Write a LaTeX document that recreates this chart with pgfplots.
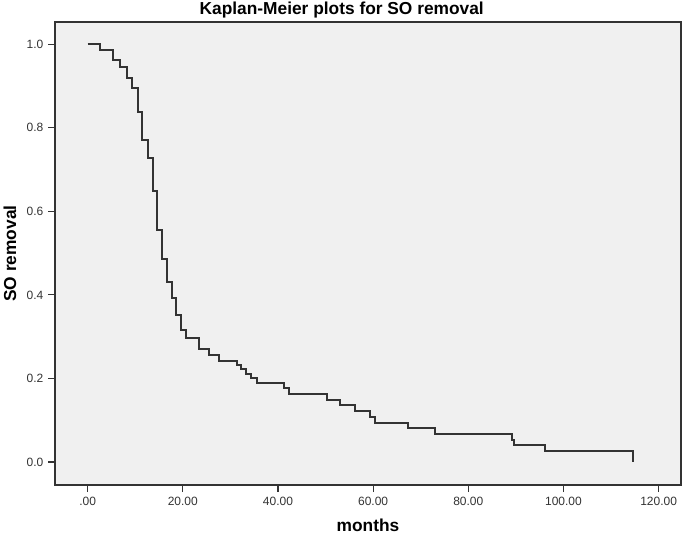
\documentclass[border=0pt]{standalone}
\usepackage{fontspec}
\setmainfont{Liberation Sans}
\usepackage{pgfplots}
\pgfplotsset{compat=1.18}
\definecolor{bgc}{HTML}{F0F0F0}
\definecolor{linec}{HTML}{333333}
\begin{document}
\begin{tikzpicture}[x=0.75pt,y=0.75pt]
\useasboundingbox (-55,-48) rectangle (630,485);
\begin{axis}[
  at={(0,0)}, anchor=south west,
  scale only axis, width=469.5pt, height=347.25pt,
  xmin=-6.85, xmax=124.7, ymin=-0.055, ymax=1.053,
  axis background/.style={fill=bgc},
  axis line style={draw=linec, line width=0.9pt},
  tick pos=left, tick align=outside,
  major tick length=5.25pt,
  major tick style={draw=linec, line width=0.9pt},
  xtick={0,20,40,60,80,100,120},
  xticklabels={.00,20.00,40.00,60.00,80.00,100.00,120.00},
  ytick={0,0.2,0.4,0.6,0.8,1.0},
  yticklabel style={/pgf/number format/.cd, fixed, fixed zerofill, precision=1},
  /pgf/number format/assume math mode=true,
  tick label style={font=\fontsize{9}{11}\selectfont, color=linec},
  xlabel={months}, ylabel={SO removal},
  title={Kaplan-Meier plots for SO removal},
  label style={font=\fontsize{13}{15}\selectfont\bfseries, color=black},
  xlabel style={at={(axis description cs:0.5,-0.086)}, anchor=center},
  ylabel style={at={(axis description cs:-0.072,0.5)}, anchor=center, rotate=0},
  title style={at={(axis description cs:0.458,1.026)}, anchor=center, yshift=-6pt, font=\fontsize{13}{15}\selectfont\bfseries},
]
\addplot[const plot, draw=linec, line width=1.5pt] coordinates {
(0,1.000)
(2.6,0.987)
(5.4,0.962)
(6.9,0.946)
(8.3,0.919)
(9.4,0.895)
(10.5,0.838)
(11.5,0.770)
(12.7,0.727)
(13.7,0.648)
(14.5,0.555)
(15.6,0.487)
(16.6,0.432)
(17.7,0.392)
(18.6,0.352)
(19.7,0.316)
(20.7,0.297)
(23.4,0.270)
(25.5,0.256)
(27.6,0.242)
(31.4,0.232)
(32.2,0.222)
(33.2,0.211)
(34.3,0.200)
(35.6,0.188)
(41.2,0.176)
(42.4,0.162)
(50.4,0.148)
(53.1,0.136)
(56.2,0.122)
(59.3,0.108)
(60.3,0.094)
(67.3,0.081)
(73.1,0.067)
(89.1,0.053)
(89.7,0.041)
(96.1,0.027)
(114.7,0.000)
};
\end{axis}
\end{tikzpicture}
\end{document}
